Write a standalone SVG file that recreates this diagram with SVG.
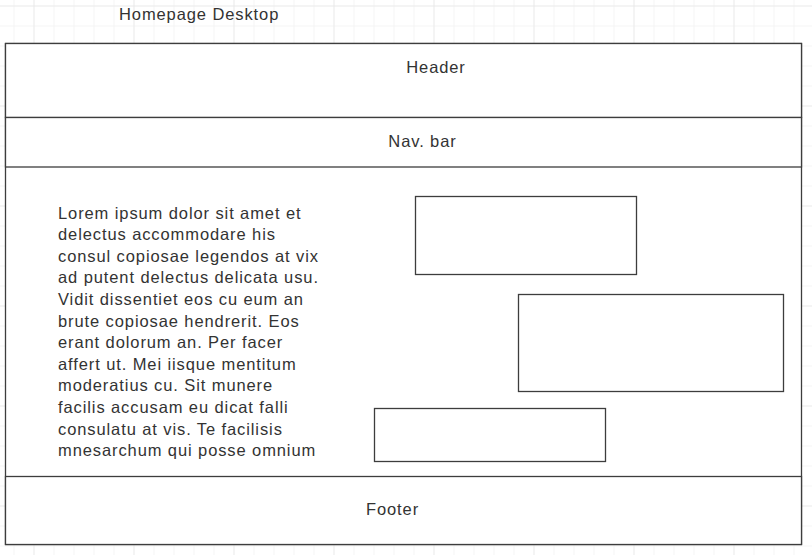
<svg xmlns="http://www.w3.org/2000/svg" width="812" height="555" viewBox="0 0 812 555">
<style>
.box{fill:#fff;stroke:#3d3d3d;stroke-width:1.3}
.t{font-family:"Liberation Sans",Arial,sans-serif;font-size:16.5px;fill:#333;letter-spacing:0.9px}
.c{text-anchor:middle}
</style>
<defs>
<pattern id="minor" x="13.5" y="5.5" width="20" height="20" patternUnits="userSpaceOnUse">
<path d="M0 0V20M0 0H20" fill="none" stroke="#ececec" stroke-width="1"/>
</pattern>
<pattern id="major" x="33.5" y="5.5" width="100" height="100" patternUnits="userSpaceOnUse">
<path d="M0 0V100M0 0H100" fill="none" stroke="#e2e2e2" stroke-width="1"/>
</pattern>
</defs>
<rect width="812" height="555" fill="#fff"/>
<rect width="812" height="555" fill="url(#minor)"/>
<rect width="812" height="555" fill="url(#major)"/>
<text class="t" x="119" y="20">Homepage Desktop</text>
<g id="page">
<rect class="box" x="5.5" y="43.5" width="796" height="501"/>
</g>
<g id="header">
<rect class="box" x="5.5" y="43.5" width="796" height="74"/>
<text class="t c" x="436" y="72.5">Header</text>
</g>
<g id="navbar">
<rect class="box" x="5.5" y="117.5" width="796" height="49.5"/>
<text class="t c" x="422.5" y="146.5">Nav. bar</text>
</g>
<g id="content">
<text class="t" x="58">
<tspan x="58" y="218.5">Lorem ipsum dolor sit amet et</tspan>
<tspan x="58" y="240.1">delectus accommodare his</tspan>
<tspan x="58" y="261.7">consul copiosae legendos at vix</tspan>
<tspan x="58" y="283.3">ad putent delectus delicata usu.</tspan>
<tspan x="58" y="304.9">Vidit dissentiet eos cu eum an</tspan>
<tspan x="58" y="326.5">brute copiosae hendrerit. Eos</tspan>
<tspan x="58" y="348.1">erant dolorum an. Per facer</tspan>
<tspan x="58" y="369.7">affert ut. Mei iisque mentitum</tspan>
<tspan x="58" y="391.3">moderatius cu. Sit munere</tspan>
<tspan x="58" y="412.9">facilis accusam eu dicat falli</tspan>
<tspan x="58" y="434.5">consulatu at vis. Te facilisis</tspan>
<tspan x="58" y="456.1">mnesarchum qui posse omnium</tspan>
</text>
</g>
<g id="box1"><rect class="box" x="415.5" y="196.5" width="221" height="78"/></g>
<g id="box2"><rect class="box" x="518.5" y="294.5" width="265" height="97"/></g>
<g id="box3"><rect class="box" x="374.5" y="408.5" width="231" height="53"/></g>
<g id="footer">
<rect class="box" x="5.5" y="476.5" width="796" height="68"/>
<text class="t c" x="392.5" y="514.5">Footer</text>
</g>
<g id="connectors"></g>
</svg>
